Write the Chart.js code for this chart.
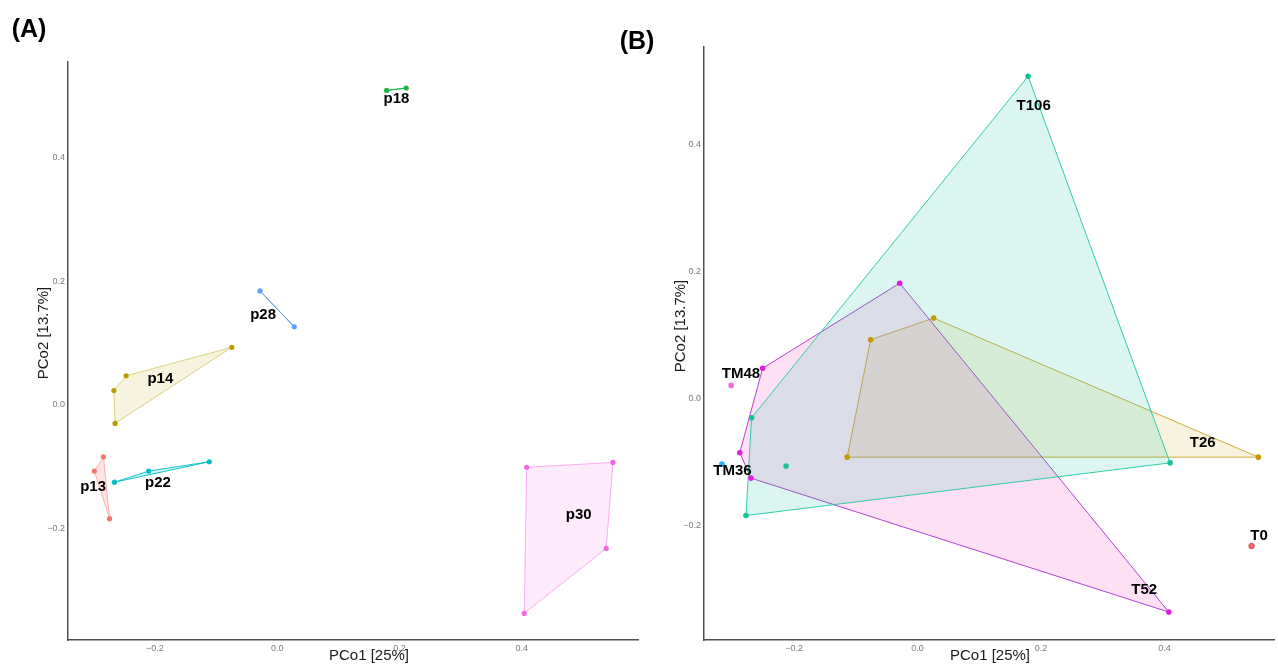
<!DOCTYPE html>
<html>
<head>
<meta charset="utf-8">
<script src="https://cdn.jsdelivr.net/npm/chart.js@4/dist/chart.umd.min.js"></script>
<style>
  html, body { margin: 0; padding: 0; background: #ffffff; }
  #wrap { position: relative; width: 1278px; height: 665px; overflow: hidden; background: #ffffff; }
  #boxA { position: absolute; left: 0; top: 0; width: 662px; height: 665px; }
  #boxB { position: absolute; left: 600px; top: 0; width: 678px; height: 665px; }
</style>
</head>
<body>
<div id="wrap">
  <div id="boxA"><canvas id="chartA" width="662" height="665"></canvas></div>
  <div id="boxB"><canvas id="chartB" width="678" height="665"></canvas></div>
</div>
<script>
// ---------- Panel A: samples grouped by plot ----------
const groupsA = ['p13', 'p14', 'p18', 'p22', 'p28', 'p30'];
const sampleGroupA = ['p13', 'p13', 'p13',
                      'p14', 'p14', 'p14', 'p14',
                      'p18', 'p18',
                      'p22', 'p22', 'p22',
                      'p28', 'p28',
                      'p30', 'p30', 'p30', 'p30'];
const pco1A = [-0.284, -0.299, -0.274,
               -0.074, -0.247, -0.267, -0.265,
                0.179,  0.211,
               -0.266, -0.210, -0.111,
               -0.028,  0.028,
                0.408,  0.549,  0.538,  0.404];
const pco2A = [-0.084, -0.107, -0.184,
                0.093,  0.047,  0.023, -0.030,
                0.508,  0.512,
               -0.125, -0.107, -0.092,
                0.184,  0.126,
               -0.101, -0.093, -0.232, -0.337];
const labelPco1A = [-0.301, -0.191, 0.195, -0.195, -0.023, 0.493];
const labelPco2A = [-0.132,  0.042, 0.494, -0.126,  0.145, -0.177];
const xRangeA = [-0.342, 0.590];
const yRangeA = [-0.380, 0.554];

// ---------- Panel B: samples grouped by time point ----------
const groupsB = ['T0', 'T106', 'T26', 'T52', 'TM36', 'TM48'];
const sampleGroupB = ['T0',
                      'T106', 'T106', 'T106', 'T106', 'T106',
                      'T26', 'T26', 'T26', 'T26',
                      'T52', 'T52', 'T52', 'T52', 'T52',
                      'TM36',
                      'TM48'];
const pco1B = [ 0.541,
                0.179, -0.269, -0.213, -0.278,  0.409,
                0.026, -0.076, -0.114,  0.552,
               -0.029, -0.251, -0.288, -0.270,  0.407,
               -0.317,
               -0.302];
const pco2B = [-0.233,
                0.507, -0.031, -0.107, -0.185, -0.102,
                0.126,  0.092, -0.093, -0.093,
                0.181,  0.047, -0.086, -0.126, -0.337,
               -0.104,
                0.020];
const labelPco1B = [ 0.553, 0.188,  0.462,  0.367, -0.300, -0.286];
const labelPco2B = [-0.217, 0.461, -0.071, -0.302, -0.115,  0.038];
const xRangeB = [-0.346, 0.578];
const yRangeB = [-0.381, 0.553];

// ---------- shared tick labels and titles ----------
const tickValues = [-0.2, 0.0, 0.2, 0.4];
const tickLabels = ['\u22120.2', '0.0', '0.2', '0.4'];
const xTitle = 'PCo1 [25%]';
const yTitle = 'PCo2 [13.7%]';

// ---------- styling ----------
const FONT = '"Liberation Sans", Arial, Helvetica, sans-serif';
const styleA = {
  point: ['#F8766D', '#B79F00', '#1DB847', '#00BFC4', '#619CFF', '#F564E3'],
  line:  ['rgba(248,118,109,0.5)', 'rgba(183,159,0,0.45)', '#1DB847', 'rgba(0,191,196,0.9)', '#619CFF', 'rgba(245,100,227,0.5)'],
  fill:  ['rgba(248,118,109,0.2)', 'rgba(183,159,0,0.13)', 'rgba(0,186,56,0.15)', 'rgba(0,191,196,0.2)', 'rgba(97,156,255,0.15)', 'rgba(245,100,227,0.12)'],
  border:['rgba(0,0,0,0)', 'rgba(0,0,0,0)', 'rgba(0,0,0,0)', 'rgba(0,0,0,0)', 'rgba(0,0,0,0)', 'rgba(0,0,0,0)'],
  layer: [1, 2, 3, 4, 5, 6],
  radius: 2.6
};
const styleB = {
  point: ['#F07070', '#17C29B', '#C49A00', '#E31CE0', '#20B4EE', '#F46AD8'],
  line:  ['#F8766D', 'rgba(40,200,165,0.95)', 'rgba(200,165,40,0.9)', 'rgba(172,58,208,0.95)', '#20B4EE', '#F46AD8'],
  fill:  ['rgba(248,118,109,0.15)', 'rgba(0,190,150,0.14)', 'rgba(200,160,0,0.13)', 'rgba(250,100,205,0.2)', 'rgba(0,180,240,0.15)', 'rgba(244,106,216,0.15)'],
  border:['#B84040', 'rgba(0,0,0,0)', 'rgba(0,0,0,0)', 'rgba(0,0,0,0)', 'rgba(0,0,0,0)', 'rgba(0,0,0,0)'],
  layer: [1, 2, 5, 4, 6, 7],   // larger layer = drawn further below
  radius: 2.8
};

// convex hull (monotone chain)
function convexHull(pts) {
  if (pts.length < 3) return pts.slice();
  const p = pts.slice().sort((a, b) => a.x - b.x || a.y - b.y);
  const cross = (o, a, b) => (a.x - o.x) * (b.y - o.y) - (a.y - o.y) * (b.x - o.x);
  const lower = [], upper = [];
  for (const q of p) {
    while (lower.length >= 2 && cross(lower[lower.length - 2], lower[lower.length - 1], q) <= 0) lower.pop();
    lower.push(q);
  }
  for (let i = p.length - 1; i >= 0; i--) {
    const q = p[i];
    while (upper.length >= 2 && cross(upper[upper.length - 2], upper[upper.length - 1], q) <= 0) upper.pop();
    upper.push(q);
  }
  upper.pop(); lower.pop();
  return lower.concat(upper);
}

function buildDatasets(groups, sampleGroup, xs, ys, style) {
  const sets = [];
  groups.forEach((g, gi) => {
    const pts = [];
    sampleGroup.forEach((s, i) => { if (s === g) pts.push({ x: xs[i], y: ys[i] }); });
    const h = convexHull(pts);
    if (h.length >= 2) {
      sets.push({
        label: g + ' hull',
        data: h.concat([h[0]]),
        showLine: true,
        fill: h.length > 2 ? 'shape' : false,
        backgroundColor: style.fill[gi],
        borderColor: style.line[gi],
        borderWidth: 1,
        pointRadius: 0,
        pointHoverRadius: 0,
        tension: 0,
        order: 10 + style.layer[gi]
      });
    }
    sets.push({
      label: g,
      data: pts,
      showLine: false,
      pointRadius: style.radius,
      pointHoverRadius: style.radius,
      pointBackgroundColor: style.point[gi],
      pointBorderColor: style.border[gi],
      pointBorderWidth: 0.8,
      order: 0
    });
  });
  return sets;
}

function axis(range, isX, size) {
  return {
    type: 'linear',
    min: range[0],
    max: range[1],
    grid: { display: false, drawTicks: false },
    border: { display: true, color: '#505050', width: 1.5 },
    ticks: {
      color: '#7a7a7a',
      font: { size: 9, family: FONT },
      padding: 3,
      autoSkip: false,
      maxRotation: 0,
      callback: (v) => {
        const i = tickValues.findIndex(t => Math.abs(t - v) < 1e-9);
        return i >= 0 ? tickLabels[i] : '';
      }
    },
    afterBuildTicks: (s) => { s.ticks = tickValues.map(v => ({ value: v })); },
    afterFit: (s) => { if (isX) s.height = size; else s.width = size; }
  };
}

// draws group names, axis titles and the panel tag
const panelText = {
  id: 'panelText',
  afterDraw(chart, args, o) {
    const ctx = chart.ctx;
    const xs = chart.scales.x, ys = chart.scales.y;
    ctx.save();
    ctx.textAlign = 'center';
    ctx.textBaseline = 'middle';
    ctx.fillStyle = '#000000';
    ctx.font = 'bold 15px ' + FONT;
    o.names.forEach((t, i) => {
      ctx.fillText(t, xs.getPixelForValue(o.lx[i]), ys.getPixelForValue(o.ly[i]));
    });
    ctx.fillStyle = '#1a1a1a';
    ctx.font = '15px ' + FONT;
    ctx.fillText(xTitle, o.xTitleAt[0], o.xTitleAt[1]);
    ctx.save();
    ctx.translate(o.yTitleAt[0], o.yTitleAt[1]);
    ctx.rotate(-Math.PI / 2);
    ctx.fillText(yTitle, 0, 0);
    ctx.restore();
    ctx.fillStyle = '#000000';
    ctx.font = 'bold 25px ' + FONT;
    ctx.fillText(o.tag, o.tagAt[0], o.tagAt[1]);
    ctx.restore();
  }
};

function makeChart(id, datasets, xRange, yRange, yAxisWidth, pad, text) {
  return new Chart(document.getElementById(id), {
    type: 'scatter',
    data: { datasets },
    options: {
      responsive: false,
      animation: false,
      devicePixelRatio: 1,
      events: [],
      layout: { padding: pad },
      scales: {
        x: axis(xRange, true, 25),
        y: axis(yRange, false, yAxisWidth)
      },
      plugins: {
        legend: { display: false },
        tooltip: { enabled: false },
        panelText: text
      }
    },
    plugins: [panelText]
  });
}

makeChart('chartA',
  buildDatasets(groupsA, sampleGroupA, pco1A, pco2A, styleA),
  xRangeA, yRangeA, 68,
  { left: 0, right: 24, top: 62, bottom: 0 },
  { names: groupsA, lx: labelPco1A, ly: labelPco2A,
    xTitleAt: [369, 656], yTitleAt: [44, 333], tag: '(A)', tagAt: [29, 30] });

makeChart('chartB',
  buildDatasets(groupsB, sampleGroupB, pco1B, pco2B, styleB),
  xRangeB, yRangeB, 104,
  { left: 0, right: 0, top: 47, bottom: 0 },
  { names: groupsB, lx: labelPco1B, ly: labelPco2B,
    xTitleAt: [390, 656], yTitleAt: [81, 326], tag: '(B)', tagAt: [37, 42] });
</script>
</body>
</html>
